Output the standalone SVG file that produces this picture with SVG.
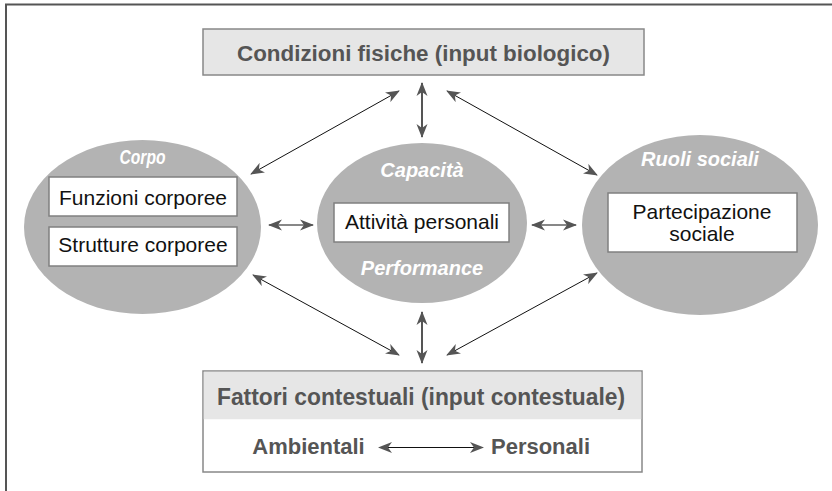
<svg xmlns="http://www.w3.org/2000/svg" width="832" height="491" viewBox="0 0 832 491">
<style>
.hdr{font-family:"Liberation Sans",Arial,sans-serif;font-weight:bold;fill:#555;text-anchor:middle}
.lbl{font-family:"Liberation Sans",Arial,sans-serif;font-size:21px;fill:#111;text-anchor:middle}
.cap{font-family:"Liberation Sans",Arial,sans-serif;font-weight:bold;font-style:italic;font-size:20px;fill:#fff;text-anchor:middle}
.ell{fill:#b3b3b3}
.box{fill:#fff;stroke:#808080;stroke-width:1.5}
.gbox{fill:#e6e6e6;stroke:#888;stroke-width:1.5}
.con{stroke:#111;stroke-width:1;fill:none;marker-start:url(#ah);marker-end:url(#ah)}
.vcon{stroke:#555;stroke-width:2;fill:none;marker-start:url(#ah);marker-end:url(#ah)}
</style>
<defs>
<marker id="ah" viewBox="0 0 14 12" refX="13" refY="6" markerWidth="14" markerHeight="12" markerUnits="userSpaceOnUse" orient="auto-start-reverse">
<path d="M0,0.5 L14,6 L0,11.5 L4,6 z" fill="#555"/>
</marker>
</defs>
<path d="M6,491 V4.5 H832" fill="none" stroke="#555" stroke-width="2"/>
<g id="condizioni">
<rect class="gbox" x="203" y="29" width="441" height="46"/>
<text class="hdr" x="423.5" y="61" font-size="22" textLength="373" lengthAdjust="spacingAndGlyphs">Condizioni fisiche (input biologico)</text>
</g>
<g id="corpo">
<ellipse class="ell" cx="142.5" cy="227" rx="118.5" ry="87"/>
<text class="cap" x="142.5" y="164" font-size="19" textLength="46" lengthAdjust="spacingAndGlyphs">Corpo</text>
<rect class="box" x="49" y="177" width="188" height="39"/>
<text class="lbl" x="143" y="205">Funzioni corporee</text>
<rect class="box" x="49" y="227" width="188" height="39"/>
<text class="lbl" x="143" y="252">Strutture corporee</text>
</g>
<g id="capacita">
<ellipse class="ell" cx="422" cy="223" rx="105" ry="80"/>
<text class="cap" x="422" y="177">Capacità</text>
<rect class="box" x="334" y="203" width="175" height="39"/>
<text class="lbl" x="422" y="229">Attività personali</text>
<text class="cap" x="422" y="275">Performance</text>
</g>
<g id="ruoli">
<ellipse class="ell" cx="700" cy="225" rx="118" ry="90"/>
<text class="cap" x="700" y="166">Ruoli sociali</text>
<rect class="box" x="608" y="193" width="189" height="59"/>
<text class="lbl" x="702" y="219">Partecipazione</text>
<text class="lbl" x="702" y="241">sociale</text>
</g>
<g id="fattori">
<rect x="203" y="371" width="439" height="101" fill="#fff" stroke="#888" stroke-width="1.5"/>
<rect x="203.75" y="371.75" width="437.5" height="47.5" fill="#e6e6e6"/>
<text class="hdr" x="421" y="405" font-size="23" textLength="408" lengthAdjust="spacingAndGlyphs">Fattori contestuali (input contestuale)</text>
<text class="hdr" x="308.5" y="454" font-size="22">Ambientali</text>
<text class="hdr" x="540.5" y="454" font-size="22">Personali</text>
<line class="con" x1="379" y1="447.5" x2="483" y2="447.5"/>
</g>
<g id="connectors">
<line class="con" x1="251" y1="174" x2="399" y2="91"/>
<line class="vcon" x1="422" y1="83" x2="422" y2="137"/>
<line class="con" x1="447" y1="91" x2="597" y2="175"/>
<line class="con" x1="269" y1="225" x2="313" y2="225"/>
<line class="con" x1="532" y1="225" x2="576" y2="225"/>
<line class="con" x1="253" y1="275" x2="399" y2="355"/>
<line class="vcon" x1="422" y1="312" x2="422" y2="363"/>
<line class="con" x1="597" y1="273" x2="447" y2="355"/>
</g>
</svg>
